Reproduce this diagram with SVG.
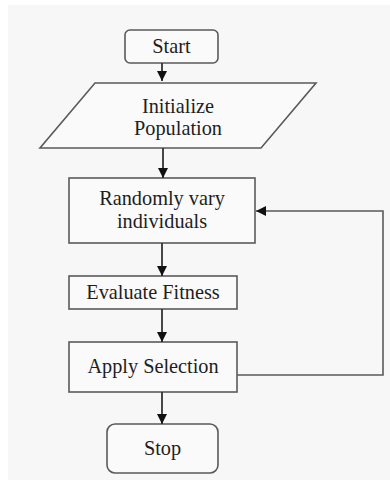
<svg xmlns="http://www.w3.org/2000/svg" width="390" height="480" viewBox="0 0 390 480">
  <defs>
    <style>
      .box { fill: #fafafa; stroke: #5a5a5a; stroke-width: 1.6; }
      .lbl { font-family: "Liberation Serif", "Times New Roman", serif; font-size: 20.3px; fill: #1e1e1e; text-anchor: middle; }
      .edge { fill: none; stroke: #333; stroke-width: 1.8; }
      .loop { fill: none; stroke: #5a5a5a; stroke-width: 1.6; }
    </style>
    <marker id="head" viewBox="0 0 10 10" refX="10" refY="5" markerWidth="10" markerHeight="10" markerUnits="userSpaceOnUse" orient="auto">
      <path d="M0,0 L10,5 L0,10 Z" fill="#111"/>
    </marker>
  </defs>

  <!-- page background -->
  <rect width="390" height="480" fill="#ffffff"/>
  <rect x="8" y="5" width="382" height="475" fill="#f7f7f7"/>

  <g id="start">
    <rect class="box" x="125" y="30" width="93" height="33" rx="5"/>
    <text class="lbl" x="171.5" y="53">Start</text>
  </g>

  <g id="init">
    <polygon class="box" points="95,83 316,83 261,148 40,148"/>
    <text class="lbl" x="178" y="113">Initialize</text>
    <text class="lbl" x="178" y="135">Population</text>
  </g>

  <g id="vary">
    <rect class="box" x="69" y="178" width="186" height="65"/>
    <text class="lbl" x="162" y="205">Randomly vary</text>
    <text class="lbl" x="162" y="228">individuals</text>
  </g>

  <g id="evaluate">
    <rect class="box" x="69" y="276" width="168" height="33"/>
    <text class="lbl" x="153" y="299">Evaluate Fitness</text>
  </g>

  <g id="select">
    <rect class="box" x="69" y="342" width="168" height="50"/>
    <text class="lbl" x="153" y="373">Apply Selection</text>
  </g>

  <g id="stop">
    <rect class="box" x="107" y="424" width="111" height="49" rx="8"/>
    <text class="lbl" x="162.5" y="455">Stop</text>
  </g>

  <g id="connectors">
    <line class="edge" x1="162" y1="63" x2="162" y2="81" marker-end="url(#head)"/>
    <line class="edge" x1="163" y1="148" x2="163" y2="178" marker-end="url(#head)"/>
    <line class="edge" x1="162" y1="243" x2="162" y2="276" marker-end="url(#head)"/>
    <line class="edge" x1="162" y1="309" x2="162" y2="342" marker-end="url(#head)"/>
    <line class="edge" x1="162" y1="392" x2="162" y2="424" marker-end="url(#head)"/>
    <!-- loop back from selection to variation -->
    <polyline class="loop" points="237,375 383,375 383,211 256,211" marker-end="url(#head)"/>
  </g>
</svg>
